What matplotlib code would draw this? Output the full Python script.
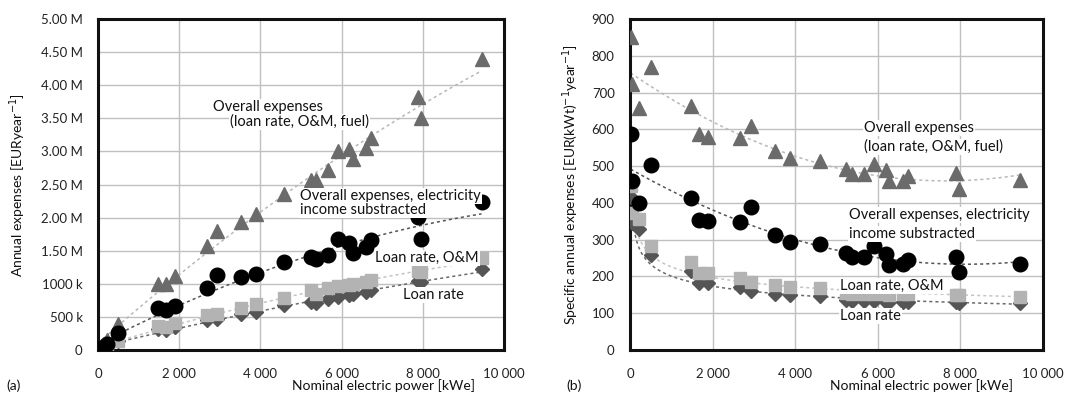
import numpy as np
import matplotlib
matplotlib.use("Agg")
import matplotlib.pyplot as plt

plt.rcParams['font.family'] = ['Lato', 'DejaVu Sans']

# nominal electric power of the plants [kWe]
power = [17, 58, 223, 504, 1480, 1680, 1900, 2675, 2926, 3520, 3885, 4590,
         5240, 5375, 5655, 5910, 6190, 6275, 6610, 6735, 7886, 7956, 9447]

# (a) annual expenses [M EUR / year]
overall = [0.014, 0.042, 0.15, 0.39, 1.0, 1.0, 1.12, 1.57, 1.80, 1.93, 2.05, 2.36,
           2.57, 2.57, 2.72, 3.01, 3.03, 2.88, 3.05, 3.20, 3.82, 3.50, 4.40]
overall_net = [0.01, 0.027, 0.09, 0.26, 0.63, 0.60, 0.66, 0.93, 1.14, 1.10, 1.15, 1.33,
               1.40, 1.37, 1.43, 1.67, 1.61, 1.47, 1.55, 1.66, 2.01, 1.68, 2.23]
loan_om = [0.008, 0.022, 0.079, 0.14, 0.36, 0.35, 0.41, 0.53, 0.55, 0.64, 0.70, 0.78,
           0.91, 0.85, 0.94, 0.97, 0.98, 0.99, 1.02, 1.05, 1.20, 1.18, 1.39]
loan = [0.007, 0.02, 0.07, 0.13, 0.31, 0.30, 0.34, 0.46, 0.47, 0.54, 0.58, 0.68,
        0.72, 0.71, 0.77, 0.80, 0.83, 0.84, 0.88, 0.90, 1.04, 1.02, 1.22]

# (b) specific annual expenses [EUR/(kWt year)]
sp_overall = [851, 723, 658, 770, 663, 586, 579, 577, 609, 540, 522, 513,
              491, 479, 479, 507, 489, 459, 459, 473, 482, 437, 463]
sp_overall_net = [586, 459, 400, 503, 414, 353, 351, 348, 388, 313, 294, 288,
                  265, 254, 253, 283, 260, 232, 234, 246, 254, 212, 235]
sp_loan_om = [445, 373, 355, 283, 239, 209, 209, 197, 186, 178, 172, 169,
              155, 152, 152, 153, 151, 150, 152, 153, 149, 150, 144]
sp_loan = [417, 345, 330, 258, 214, 181, 181, 172, 160, 153, 150, 146,
           135, 132, 132, 132, 131, 130, 131, 131, 130, 128, 127]

x_ticks = [0, 2000, 4000, 6000, 8000, 10000]
x_ticklabels = ['0', '2 000', '4 000', '6 000', '8 000', '10 000']
a_ticks = [0, 0.5, 1.0, 1.5, 2.0, 2.5, 3.0, 3.5, 4.0, 4.5, 5.0]
a_ticklabels = ['0', '500 k', '1000 k', '1.50 M', '2.00 M', '2.50 M', '3.00 M',
                '3.50 M', '4.00 M', '4.50 M', '5.00 M']
b_ticks = [0, 100, 200, 300, 400, 500, 600, 700, 800, 900]

# marker, size, colour, trend colour
styles = {
    'loan': ('D', 7.5, '#555555', '#6a6a6a'),
    'loan_om': ('s', 9, '#b3b3b3', '#c4c4c4'),
    'overall': ('^', 10, '#6b6b6b', '#b8b8b8'),
    'overall_net': ('o', 10.5, '#000000', '#555555'),
}

W, H = 1067, 398
fig = plt.figure(figsize=(W / 100, H / 100), dpi=100)
ax1 = fig.add_axes([98 / W, 1 - 350 / H, 406 / W, 331 / H])
ax2 = fig.add_axes([630 / W, 1 - 350 / H, 413 / W, 331 / H])


def setup(ax, yticks, ylabels, ylim):
    ax.set_xlim(0, 10000)
    ax.set_ylim(*ylim)
    ax.set_xticks(x_ticks)
    ax.set_xticklabels(x_ticklabels)
    ax.set_yticks(yticks)
    ax.set_yticklabels(ylabels)
    ax.tick_params(length=0, labelsize=9.5, colors='#222222', pad=11)
    ax.tick_params(axis='x', pad=13)
    ax.grid(True, color='#c0c0c0', lw=1.0)
    ax.set_axisbelow(True)
    for s in ax.spines.values():
        s.set_linewidth(2.2)
        s.set_color('#111111')


def draw(ax, series, kinds):
    x = np.array(power, float)
    xs = np.linspace(x.min(), x.max(), 300)
    for key in ['loan', 'loan_om', 'overall', 'overall_net']:
        y = np.array(series[key], float)
        m, ms, c, tc = styles[key]
        if kinds[key] == 'poly':
            p = np.polyfit(x, y, 2)
            yt = np.polyval(p, xs)
        else:
            p = np.polyfit(np.log(x), np.log(y), 1)
            yt = np.exp(p[1]) * xs ** p[0]
        ax.plot(xs, yt, ls=(0, (2, 2)), color=tc, lw=1.1, zorder=2)
        ax.plot(x, y, ls='none', marker=m, ms=ms, color=c, mec=c, zorder=3)


setup(ax1, a_ticks, a_ticklabels, (0, 5.0))
draw(ax1, {'overall': overall, 'overall_net': overall_net,
           'loan_om': loan_om, 'loan': loan},
     {'overall': 'poly', 'overall_net': 'poly', 'loan_om': 'poly', 'loan': 'poly'})

setup(ax2, b_ticks, [str(t) for t in b_ticks], (0, 900))
draw(ax2, {'overall': sp_overall, 'overall_net': sp_overall_net,
           'loan_om': sp_loan_om, 'loan': sp_loan},
     {'overall': 'poly', 'overall_net': 'poly', 'loan_om': 'power', 'loan': 'power'})

box = dict(facecolor='white', edgecolor='none', pad=0.6)
tkw = dict(fontsize=10.5, color='#111111', va='center', ha='left', zorder=5)


def ftext(x, y, s, **kw):
    d = dict(tkw)
    d.update(kw)
    fig.text(x / W, 1 - y / H, s, **d)


# labels of panel (a)
ftext(213, 107, 'Overall expenses', bbox=box)
ftext(230, 122, '(loan rate, O&M, fuel)', bbox=box)
ftext(300, 196, 'Overall expenses, electricity', bbox=box)
ftext(300, 210, 'income substracted', bbox=box)
ftext(375, 258, 'Loan rate, O&M', bbox=box)
ftext(403, 295, 'Loan rate', bbox=box)

# labels of panel (b)
ftext(864, 128, 'Overall expenses', bbox=box)
ftext(864, 147, '(loan rate, O&M, fuel)', bbox=box)
ftext(849, 215, 'Overall expenses, electricity', bbox=box)
ftext(849, 234, 'income substracted', bbox=box)
ftext(840, 286, 'Loan rate, O&M', bbox=box)
ftext(840, 316, 'Loan rate', bbox=box)

# axis titles
ftext(383, 386, 'Nominal electric power [kWe]', ha='center', fontsize=10)
ftext(921, 386, 'Nominal electric power [kWe]', ha='center', fontsize=10)
ftext(6, 386, '(a)', fontsize=10)
ftext(566, 386, '(b)', fontsize=10)
fig.text(18 / W, 1 - 185 / H, 'Annual expenses [EURyear$^{-1}$]', rotation=90,
         ha='center', va='center', fontsize=10, color='#111111')
fig.text(571 / W, 1 - 185 / H, 'Specific annual expenses [EUR(kWt)$^{-1}$year$^{-1}$]',
         rotation=90, ha='center', va='center', fontsize=10, color='#111111')

fig.savefig('out.png', dpi=100)
